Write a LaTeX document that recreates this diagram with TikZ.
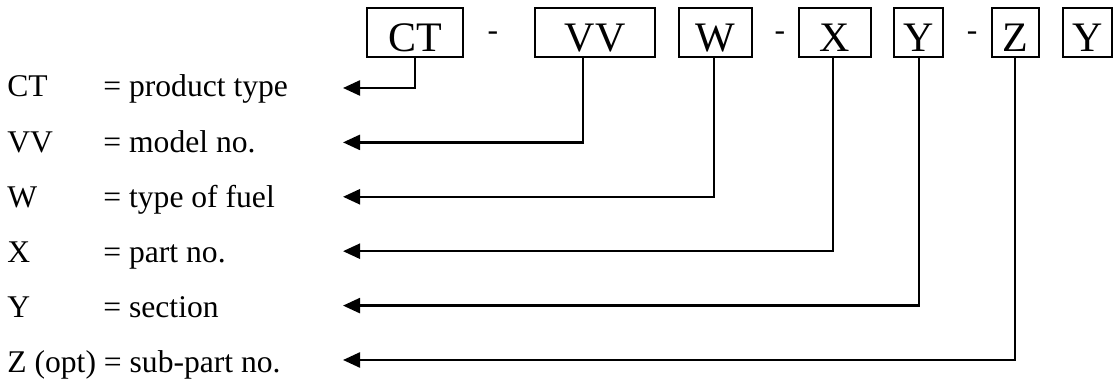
\documentclass[tikz,border=0pt]{standalone}
\usepackage{fontspec}
\setmainfont{Liberation Serif}
\usetikzlibrary{arrows.meta}
\begin{document}
\begin{tikzpicture}[x=0.5pt,y=-0.5pt,
  codebox/.style={draw,line width=1pt,inner sep=0pt,minimum height=24.5pt,
    text height=22pt,text depth=2.5pt,font=\fontsize{21pt}{25pt}\selectfont},
  lab/.style={inner sep=0pt,anchor=base west,font=\fontsize{15.8pt}{19pt}\selectfont},
  hyph/.style={inner sep=0pt,anchor=base,font=\fontsize{15.8pt}{19pt}\selectfont},
  conn/.style={line width=1.2pt,-{Triangle[length=8.5pt,width=7.5pt]}}]
\useasboundingbox (0,0) rectangle (1113,383);
% code boxes
\node[codebox,minimum width=48pt] (ct) at (415,32.5) {CT};
\node[codebox,minimum width=60pt] (vv) at (595,32.5) {VV};
\node[codebox,minimum width=36.5pt] (w) at (715.5,32.5) {W};
\node[codebox,minimum width=36pt] (x) at (835,32.5) {X};
\node[codebox,minimum width=24.5pt] (y1) at (918.5,32.5) {Y};
\node[codebox,minimum width=23.5pt] (z) at (1015.5,32.5) {Z};
\node[codebox,minimum width=24.5pt] (y2) at (1087.5,32.5) {Y};
% hyphens
\node[hyph] (h1) at (493,41) {-};
\node[hyph] (h2) at (780,41) {-};
\node[hyph] (h3) at (972,41) {-};
% taps on the boxes
\coordinate (tct) at (415,57);
\coordinate (tvv) at (583,57);
\coordinate (tw) at (714,57);
\coordinate (tx) at (833,57);
\coordinate (ty) at (919,57);
\coordinate (tz) at (1015,57);
% arrow tips
\coordinate (a1) at (343,88);
\coordinate (a2) at (343,142.4);
\coordinate (a3) at (343,196.8);
\coordinate (a4) at (343,251.2);
\coordinate (a5) at (343,305.6);
\coordinate (a6) at (343,360);
% labels
\node[lab] (k1) at (7,97) {CT};
\node[lab] (e1) at (103,97) {= product type};
\node[lab] (k2) at (7,152.2) {VV};
\node[lab] (e2) at (103,152.2) {= model no.};
\node[lab] (k3) at (7,207.4) {W};
\node[lab] (e3) at (103,207.4) {= type of fuel};
\node[lab] (k4) at (7,262.6) {X};
\node[lab] (e4) at (103,262.6) {= part no.};
\node[lab] (k5) at (7,317.8) {Y};
\node[lab] (e5) at (103,317.8) {= section};
\node[lab] (k6) at (7,373) {Z (opt) = sub-part no.};
% connectors
\draw[conn] (tct) |- (a1);
\draw[conn] (tvv) |- (a2);
\draw[conn] (tw) |- (a3);
\draw[conn] (tx) |- (a4);
\draw[conn] (ty) |- (a5);
\draw[conn] (tz) |- (a6);
\end{tikzpicture}
\end{document}
